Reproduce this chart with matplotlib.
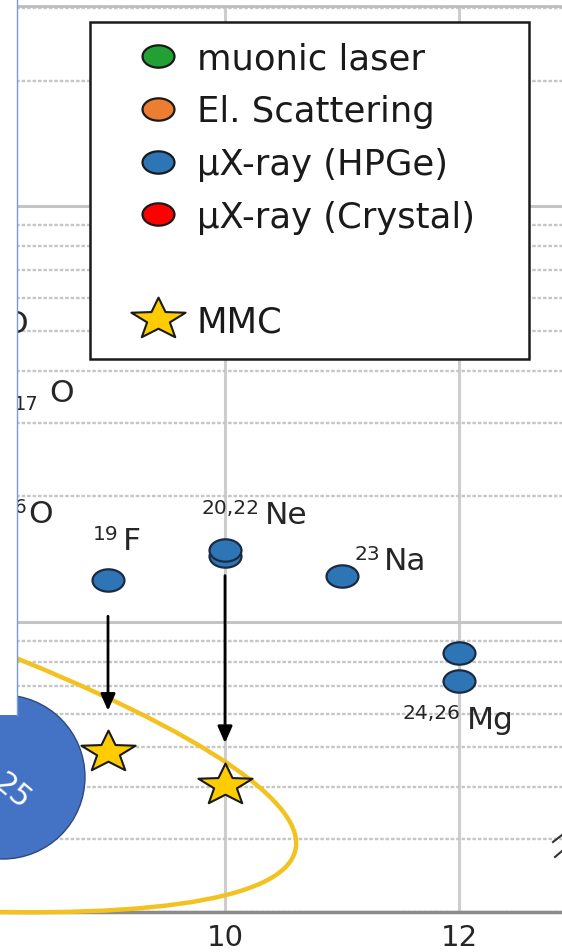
import numpy as np
import matplotlib
matplotlib.use("Agg")
import matplotlib.pyplot as plt
from matplotlib.path import Path
from matplotlib.patches import Ellipse, Circle, Rectangle
from matplotlib.lines import Line2D
from matplotlib.transforms import Affine2D
from matplotlib.ticker import LogLocator, NullFormatter

plt.rcParams['font.family'] = ['DejaVu Sans']

# muonic X-ray (HPGe) results per element, Z and value
hpge_z = [9, 10, 10, 11, 12, 12]
hpge_val = [1.26e-3, 1.44e-3, 1.49e-3, 1.29e-3, 8.4e-4, 7.2e-4]

# projected MMC results
mmc_z = [9, 10]
mmc_val = [4.85e-4, 4.05e-4]

# improvement arrows (from HPGe down to MMC)
arrow_z = [9, 10]
arrow_from = [1.03e-3, 1.29e-3]
arrow_to = [6.1e-4, 5.1e-4]

legend_labels = ["muonic laser", "El. Scattering", "µX-ray (HPGe)", "µX-ray (Crystal)", "MMC"]
legend_colors = ["#22A033", "#ED7D31", "#2E75B6", "#FF0000"]

x_ticks = [8, 10, 12]

W, H = 562, 953
fig = plt.figure(figsize=(W / 100, H / 100), dpi=100)
ax = fig.add_axes([0, 40 / H, 1, 906 / H])
ax.set_yscale('log')

# grid
ax.set_xticks(x_ticks)
ax.set_xlim(8.077, 12.880)
ax.set_ylim(2.0e-4, 3.03e-2)
ax.yaxis.set_minor_locator(LogLocator(base=10, subs=range(2, 10)))
ax.yaxis.set_minor_formatter(NullFormatter())
ax.set_axisbelow(True)
ax.xaxis.grid(True, color='#CDCDCD', lw=2.2)
ax.yaxis.grid(True, which='major', color='#C4C4C4', lw=2.2)
ax.yaxis.grid(True, which='minor', color='#C6C6C6', lw=1.7, ls=(0, (1.5, 0.8)))
ax.tick_params(axis='x', length=0, labelsize=21, labelcolor='#262626', pad=8)
ax.tick_params(axis='y', which='both', length=0, labelleft=False)
for s in ('left', 'right'):
    ax.spines[s].set_visible(False)
ax.spines['top'].set_color('#BDBDBD')
ax.spines['top'].set_linewidth(2)
ax.spines['bottom'].set_color('#8A8A8A')
ax.spines['bottom'].set_linewidth(2.5)

# marker shapes (slightly wide)
ellipse_marker = Affine2D().scale(1.0, 0.7).transform_path(Path.unit_circle())
ang = np.pi / 2 + np.arange(10) * np.pi / 5
rad = np.where(np.arange(10) % 2 == 0, 1.0, 0.42)
star_verts = np.c_[1.3 * rad * np.cos(ang), rad * np.sin(ang)]
star_marker = Path(np.vstack([star_verts, star_verts[:1]]), closed=True)

# pixel-space transform for annotations on top of the chart
pix = Affine2D().scale(1 / W, -1 / H).translate(0, 1) + fig.transFigure

# highlight ellipse around the MMC projections
ax.add_patch(Ellipse((-1025, 570), 2700, 404, angle=12, transform=pix,
                     fill=False, ec='#F2C320', lw=3.2, zorder=3, clip_on=False))

# arrows
for z, y0, y1 in zip(arrow_z, arrow_from, arrow_to):
    ax.annotate('', xy=(z, y1), xytext=(z, y0),
                arrowprops=dict(arrowstyle='-|>,head_length=0.5,head_width=0.22',
                                color='black', lw=2.0, mutation_scale=20,
                                shrinkA=0, shrinkB=0), zorder=4)

ax.plot(hpge_z, hpge_val, ls='none', marker=ellipse_marker, ms=23,
        mfc='#2E75B6', mec='#1B2A41', mew=1.6, zorder=5)
ax.plot(mmc_z, mmc_val, ls='none', marker=star_marker, ms=39,
        mfc='#FFCC00', mec='#1A1A1A', mew=1.5, zorder=6)

# nuclide labels
PT = 0.72
def nuclide(xy, mass, sym, mass_dx, sym_dx, base_dy):
    ax.annotate(mass, xy=xy, xytext=(mass_dx * PT, (base_dy + 10) * PT),
                textcoords='offset points', ha='right', va='baseline',
                fontsize=14.5, color='#262626', zorder=7)
    ax.annotate(sym, xy=xy, xytext=(sym_dx * PT, base_dy * PT),
                textcoords='offset points', ha='left', va='baseline',
                fontsize=22.5, color='#262626', zorder=7)

nuclide((hpge_z[0], hpge_val[0]), '19', 'F', 10, 15, 31)
nuclide((hpge_z[2], hpge_val[2]), '20,22', 'Ne', 34, 40, 27)
nuclide((hpge_z[3], hpge_val[3]), '23', 'Na', 38, 42, 7)
nuclide((hpge_z[5], hpge_val[5]), '24,26', 'Mg', 1, 8, -47)

txt = dict(color='#262626', va='baseline', zorder=7)
ax.text(8.105, 4.98e-3, 'O', fontsize=22.5, ha='left', **txt)
ax.text(8.410, 3.25e-3, '17', fontsize=14, ha='right', **txt)
ax.text(8.496, 3.40e-3, 'O', fontsize=22.5, ha='left', **txt)
ax.text(8.310, 1.84e-3, '16', fontsize=14, ha='right', **txt)
ax.text(8.322, 1.74e-3, 'O', fontsize=22.5, ha='left', **txt)

# legend
handles = [Line2D([], [], ls='none', marker=ellipse_marker, ms=23, mfc=c,
                  mec='#1A1A1A', mew=1.6) for c in legend_colors]
handles.append(Line2D([], [], ls='none'))
handles.append(Line2D([], [], ls='none', marker=star_marker, ms=39,
                      mfc='#FFCC00', mec='#1A1A1A', mew=1.5))
labels = legend_labels[:4] + [' '] + legend_labels[4:]
leg = ax.legend(handles, labels, loc='upper left',
                bbox_to_anchor=(90 / W, 1 - 23 / H, 439 / W, 0),
                bbox_transform=fig.transFigure, mode='expand',
                fontsize=25.5, numpoints=1, frameon=True, fancybox=False,
                framealpha=1, edgecolor='#1A1A1A', borderpad=0.56,
                handlelength=2.72, handletextpad=-0.26, labelspacing=0.525,
                borderaxespad=0)
leg.get_frame().set_linewidth(1.8)
for t in leg.get_texts():
    t.set_color('#1A1A1A')

# slide overlays: side panel, page badge, edge marks
fig.add_artist(Circle((3, 778), 82, transform=pix, fc='#4472C4', ec='#2C4A7E',
                      lw=1, zorder=9))
fig.add_artist(Rectangle((0, 0), 17, 716, transform=pix, fc='white', ec='none',
                         zorder=10))
fig.add_artist(Line2D([17, 17], [0, 716], transform=pix, color='#7A9BD3',
                      lw=1, zorder=11))
fig.text(12, 792, '25', transform=pix, color='white', fontsize=22,
         rotation=-40, ha='center', va='center', rotation_mode='anchor',
         zorder=12)
fig.add_artist(Line2D([553, 562], [843, 836], transform=pix, color='#333333',
                      lw=1.5, zorder=11))
fig.add_artist(Line2D([555, 562], [858, 852], transform=pix, color='#333333',
                      lw=1.5, zorder=11))

fig.savefig('out.png', dpi=100, facecolor='white')
